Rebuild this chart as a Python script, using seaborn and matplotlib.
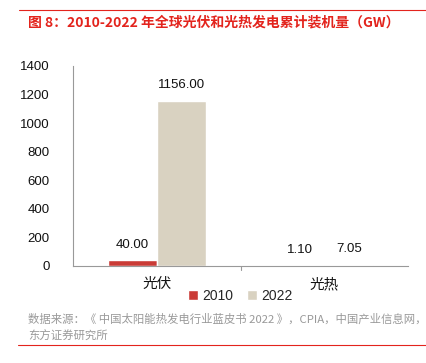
import matplotlib.pyplot as plt
import seaborn as sns
import pandas as pd
from matplotlib.lines import Line2D

categories = ["光伏", "光热"]
years = ["2010", "2022"]
vals_2010 = [40.00, 1.10]
vals_2022 = [1156.00, 7.05]

df = pd.DataFrame({
    "cat": categories * 2,
    "year": [years[0]] * 2 + [years[1]] * 2,
    "gw": vals_2010 + vals_2022,
})

sns.set_style("white")
plt.rcParams["font.family"] = ["Noto Sans CJK SC", "DejaVu Sans"]

fig = plt.figure(figsize=(4.26, 3.63), dpi=100)
ax = fig.add_axes([73 / 426, 1 - 266 / 363, 335 / 426, 200 / 363])

sns.barplot(data=df, x="cat", y="gw", hue="year", palette=["#E3241D", "#DDD3BD"],
            width=0.585, ax=ax, legend=True)

for c in ax.containers:
    ax.bar_label(c, labels=[f"{v:.2f}" for v in c.datavalues], padding=7, fontsize=9.5,
                 color="#111111", family=["Liberation Sans", "DejaVu Sans"])

ax.set_ylim(0, 1400)
ax.set_yticks(range(0, 1401, 200))
ax.set_xlim(-0.5, 1.5)
ax.set_xlabel("")
ax.set_ylabel("")
for lab in ax.get_yticklabels():
    lab.set_family(["Liberation Sans", "DejaVu Sans"])
ax.tick_params(axis="y", labelsize=9.5, length=3, color="#999999", pad=14, labelcolor="#111111")
ax.tick_params(axis="x", labelsize=10.5, length=0, pad=8, labelcolor="#111111")
for s in ["top", "right"]:
    ax.spines[s].set_visible(False)
ax.spines["left"].set_color("#999999")
ax.spines["bottom"].set_color("#999999")
ax.spines["left"].set_linewidth(0.8)
ax.spines["bottom"].set_linewidth(0.8)
ax.axvline(0.5, ymin=-0.02, ymax=0, color="#999999", lw=0.8, clip_on=False)

ax.legend(loc="upper center", bbox_to_anchor=(0.5, -0.085), ncol=2, frameon=False,
          handlelength=0.7, handleheight=0.7, handletextpad=0.3,
          columnspacing=1.0, borderaxespad=0,
          prop={"family": ["Liberation Sans", "DejaVu Sans"], "size": 10})

fig.text(28 / 426, 1 - 22 / 363, "图 8：2010-2022 年全球光伏和光热发电累计装机量（GW）",
         color="#E3241D", fontsize=10, va="center", ha="left", fontweight="bold")
fig.add_artist(Line2D([19 / 426, 1], [1 - 10 / 363] * 2, color="#E3241D", lw=0.8))
fig.text(28 / 426, 1 - 319 / 363, "数据来源：《 中国太阳能热发电行业蓝皮书 2022 》，CPIA，中国产业信息网，",
         color="#999999", fontsize=8.2, va="center", ha="left")
fig.text(28 / 426, 1 - 336 / 363, "东方证券研究所",
         color="#999999", fontsize=8.2, va="center", ha="left")
fig.add_artist(Line2D([18 / 426, 1], [1 - 345 / 363] * 2, color="#E3241D", lw=0.8))

plt.savefig("out.png", dpi=100)
